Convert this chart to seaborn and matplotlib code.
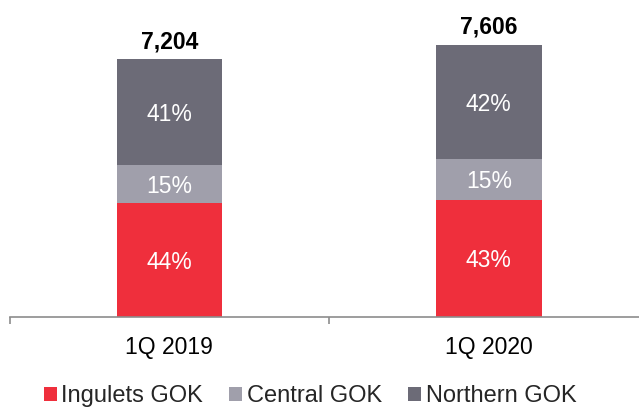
import matplotlib
matplotlib.use("Agg")
import matplotlib.pyplot as plt
import seaborn as sns
import pandas as pd
from matplotlib.patches import Patch

quarters = ["1Q 2019", "1Q 2020"]
totals = [7204, 7606]
ingulets_pct = [44, 43]
central_pct = [15, 15]
northern_pct = [41, 42]
series_names = ["Ingulets GOK", "Central GOK", "Northern GOK"]
colors = ["#EF2F3C", "#A09FAB", "#6C6B77"]

sns.set_theme(style="white")
plt.rcParams['font.family'] = ['Liberation Sans', 'DejaVu Sans']

fig = plt.figure(figsize=(6.39, 4.12), dpi=100)
base_y = 316.5
ax = fig.add_axes([9.5/639, (412-base_y)/412, 1 - 9.5/639, base_y/412])

pcts = [ingulets_pct, central_pct, northern_pct]
bottoms = [0.0, 0.0]
for name, pct, col in zip(series_names, pcts, colors):
    vals = [t * p / 100.0 for t, p in zip(totals, pct)]
    df = pd.DataFrame({"quarter": quarters, "value": vals})
    sns.barplot(data=df, x="quarter", y="value", color=col, bottom=bottoms,
                width=0.33, ax=ax, saturation=1, edgecolor="none", linewidth=0)
    for i, (v, b, p) in enumerate(zip(vals, bottoms, pct)):
        ax.text(i, b + v / 2, f"{p}%", ha="center", va="center_baseline",
                color="white", fontsize=16.5)
    bottoms = [b + v for b, v in zip(bottoms, vals)]

for i, t in enumerate(totals):
    ax.text(i, t + 310, f"{t:,}", ha="center", va="baseline",
            fontsize=16.5, fontweight="bold", color="black")

ax.set_xlabel("")
ax.set_ylabel("")
ax.set_yticks([])
ax.set_xticks([0, 1])
ax.set_xticklabels(quarters, fontsize=16.5, color="black")
ax.set_xticks([-0.5, 0.5], minor=True)
ax.set_xlim(-0.5, 1.47)
ax.set_ylim(0, 8865)
for s in ["top", "right", "left"]:
    ax.spines[s].set_visible(False)
ax.spines["bottom"].set_color("#8C8C8C")
ax.spines["bottom"].set_linewidth(1.2)
ax.tick_params(axis="x", which="major", length=0, pad=14)
ax.tick_params(axis="x", which="minor", length=5, width=1.2, color="#8C8C8C", direction="out")
ax.tick_params(axis="x", which="both", bottom=True)

handles = [Patch(facecolor=c, edgecolor="none") for c in colors]
fig.legend(handles, series_names, loc="center", bbox_to_anchor=(0.485, 1 - 396/412),
           ncol=3, frameon=False, fontsize=17, handlelength=0.55, handleheight=0.55,
           handletextpad=0.2, columnspacing=1.1)

fig.savefig("out.png", dpi=100)
